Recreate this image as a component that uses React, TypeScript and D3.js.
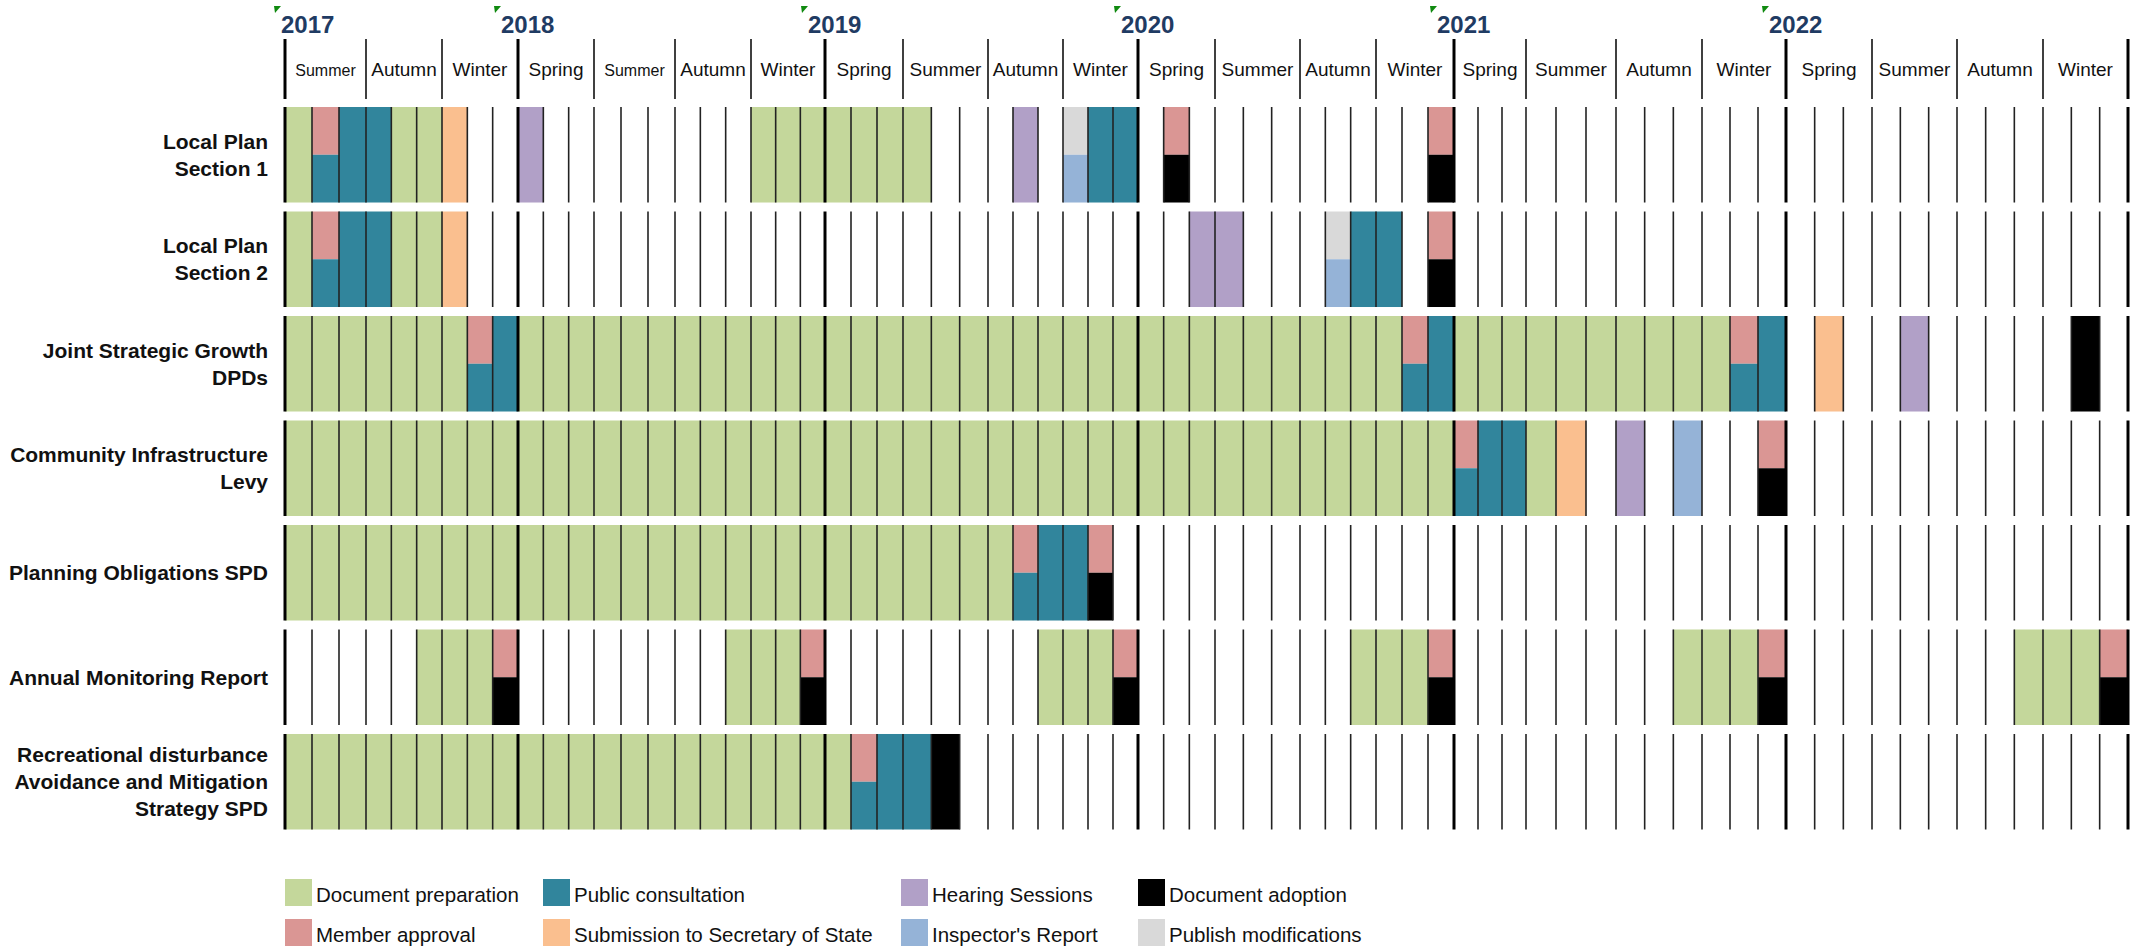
import React from "react";
import * as d3 from "d3";

// phases, in legend order
const phaseKeys = ["prep", "consult", "hearing", "adopt", "member", "submit", "inspector", "modify"];
const phaseNames = [
  "Document preparation",
  "Public consultation",
  "Hearing Sessions",
  "Document adoption",
  "Member approval",
  "Submission to Secretary of State",
  "Inspector's Report",
  "Publish modifications",
];
const phaseColors = ["#C4D79B", "#31859C", "#B1A0C7", "#000000", "#DA9694", "#FABF8F", "#95B3D7", "#D9D9D9"];

const years = ["2017", "2018", "2019", "2020", "2021", "2022"];
const yearStartMonth = [0, 9, 21, 33, 45, 57];
const seasons = [
  "Summer", "Autumn", "Winter",
  "Spring", "Summer", "Autumn", "Winter",
  "Spring", "Summer", "Autumn", "Winter",
  "Spring", "Summer", "Autumn", "Winter",
  "Spring", "Summer", "Autumn", "Winter",
  "Spring", "Summer", "Autumn", "Winter",
];
const monthCount = 69;

const docs = [
  "Local Plan\nSection 1",
  "Local Plan\nSection 2",
  "Joint Strategic Growth\nDPDs",
  "Community Infrastructure\nLevy",
  "Planning Obligations SPD",
  "Annual Monitoring Report",
  "Recreational disturbance\nAvoidance and Mitigation\nStrategy SPD",
];

// [first month, last month, phase] - whole cell
const spans = [
  [[0, 0, "prep"], [2, 3, "consult"], [4, 5, "prep"], [6, 6, "submit"], [9, 9, "hearing"], [18, 24, "prep"], [28, 28, "hearing"], [31, 32, "consult"]],
  [[0, 0, "prep"], [2, 3, "consult"], [4, 5, "prep"], [6, 6, "submit"], [35, 36, "hearing"], [41, 42, "consult"]],
  [[0, 6, "prep"], [8, 8, "consult"], [9, 42, "prep"], [44, 44, "consult"], [45, 54, "prep"], [56, 56, "consult"], [58, 58, "submit"], [61, 61, "hearing"], [67, 67, "adopt"]],
  [[0, 44, "prep"], [46, 47, "consult"], [48, 48, "prep"], [49, 49, "submit"], [51, 51, "hearing"], [53, 53, "inspector"]],
  [[0, 27, "prep"], [29, 30, "consult"]],
  [[5, 7, "prep"], [17, 19, "prep"], [29, 31, "prep"], [41, 43, "prep"], [53, 55, "prep"], [65, 67, "prep"]],
  [[0, 21, "prep"], [23, 24, "consult"], [25, 25, "adopt"]],
];

// [month, top half phase, bottom half phase]
const splits = [
  [[1, "member", "consult"], [30, "modify", "inspector"], [34, "member", "adopt"], [44, "member", "adopt"]],
  [[1, "member", "consult"], [40, "modify", "inspector"], [44, "member", "adopt"]],
  [[7, "member", "consult"], [43, "member", "consult"], [55, "member", "consult"]],
  [[45, "member", "consult"], [56, "member", "adopt"]],
  [[28, "member", "consult"], [31, "member", "adopt"]],
  [[8, "member", "adopt"], [20, "member", "adopt"], [32, "member", "adopt"], [44, "member", "adopt"], [56, "member", "adopt"], [68, "member", "adopt"]],
  [[22, "member", "consult"]],
];

const W = 2141;
const H = 949;
const FONT = "'Liberation Sans', Arial, sans-serif";
// measured pixel positions of the season edges (column widths differ a little)
const seasonEdges = [285, 366, 442, 518, 594, 675, 751, 825, 903, 988, 1063, 1138, 1215, 1300, 1376, 1454, 1526, 1616, 1702, 1786, 1872, 1957, 2043, 2128];

export default function App() {
  const x = d3.scaleLinear().domain(seasonEdges.map((_, i) => i * 3)).range(seasonEdges);
  const y = d3.scaleBand().domain(docs).range([107, 829.5]).paddingInner(0.086);
  const color = d3.scaleOrdinal<string, string>().domain(phaseKeys).range(phaseColors);
  const bw = y.bandwidth();
  const months = d3.range(monthCount + 1);
  const isYearEdge = (m: number) => yearStartMonth.includes(m) || m === monthCount;

  return (
    <svg width={W} height={H} style={{ position: "absolute", left: 0, top: 0, background: "#fff" }} fontFamily={FONT}>
      {/* header: years */}
      {years.map((yr, i) => {
        const tx = x(yearStartMonth[i]) - (i === 0 ? 4 : 17);
        return (
          <g key={yr}>
            <polygon points={`${tx - 7},6 ${tx},6 ${tx - 6},13`} fill="#108a10" />
            <text x={tx} y={33} fontSize={24} fontWeight="bold" fill="#1F3B63">{yr}</text>
          </g>
        );
      })}
      {/* header: seasons */}
      {seasons.map((s, i) => (
        <text key={i} x={(x(i * 3) + x(i * 3 + 3)) / 2} y={76} textAnchor="middle"
          fontSize={i === 0 || i === 4 ? 16 : 19} fill="#111">{s}</text>
      ))}
      {seasonEdges.map((_, i) => {
        const m = i * 3;
        return (
          <line key={i} x1={x(m)} x2={x(m)} y1={39} y2={99}
            stroke="#000" strokeWidth={isYearEdge(m) ? 3 : 1.5} />
        );
      })}

      {/* rows */}
      {docs.map((doc, r) => {
        const y0 = y(doc)!;
        const lines = doc.split("\n");
        const lh = 27;
        const cy = y0 + bw / 2 - ((lines.length - 1) * lh) / 2 + 7.5;
        return (
          <g key={doc}>
            {lines.map((ln, k) => (
              <text key={k} x={268} y={cy + k * lh} textAnchor="end" fontSize={21}
                fontWeight="bold" fill="#111">{ln}</text>
            ))}
            {spans[r].map(([a, b, p], k) => (
              <rect key={"s" + k} x={x(a as number)} y={y0} width={x((b as number) + 1) - x(a as number)}
                height={bw} fill={color(p as string)} />
            ))}
            {splits[r].map(([m, t, b], k) => (
              <g key={"p" + k}>
                <rect x={x(m as number)} y={y0} width={x((m as number) + 1) - x(m as number)} height={bw / 2} fill={color(t as string)} />
                <rect x={x(m as number)} y={y0 + bw / 2} width={x((m as number) + 1) - x(m as number)} height={bw / 2} fill={color(b as string)} />
              </g>
            ))}
            {months.map((m) => (
              <line key={"l" + m} x1={x(m)} x2={x(m)} y1={y0} y2={y0 + bw}
                stroke={isYearEdge(m) ? "#000" : "#222"} strokeWidth={isYearEdge(m) ? 3 : 1.6} />
            ))}
          </g>
        );
      })}

      {/* legend */}
      {phaseKeys.map((p, i) => {
        const colX = [285, 543, 901, 1138][i % 4];
        const rowY = i < 4 ? 879 : 919;
        return (
          <g key={p}>
            <rect x={colX} y={rowY} width={27} height={27} fill={color(p)} />
            <text x={colX + 31} y={rowY + 22.5} fontSize={20.5} fill="#111">{phaseNames[i]}</text>
          </g>
        );
      })}
    </svg>
  );
}
